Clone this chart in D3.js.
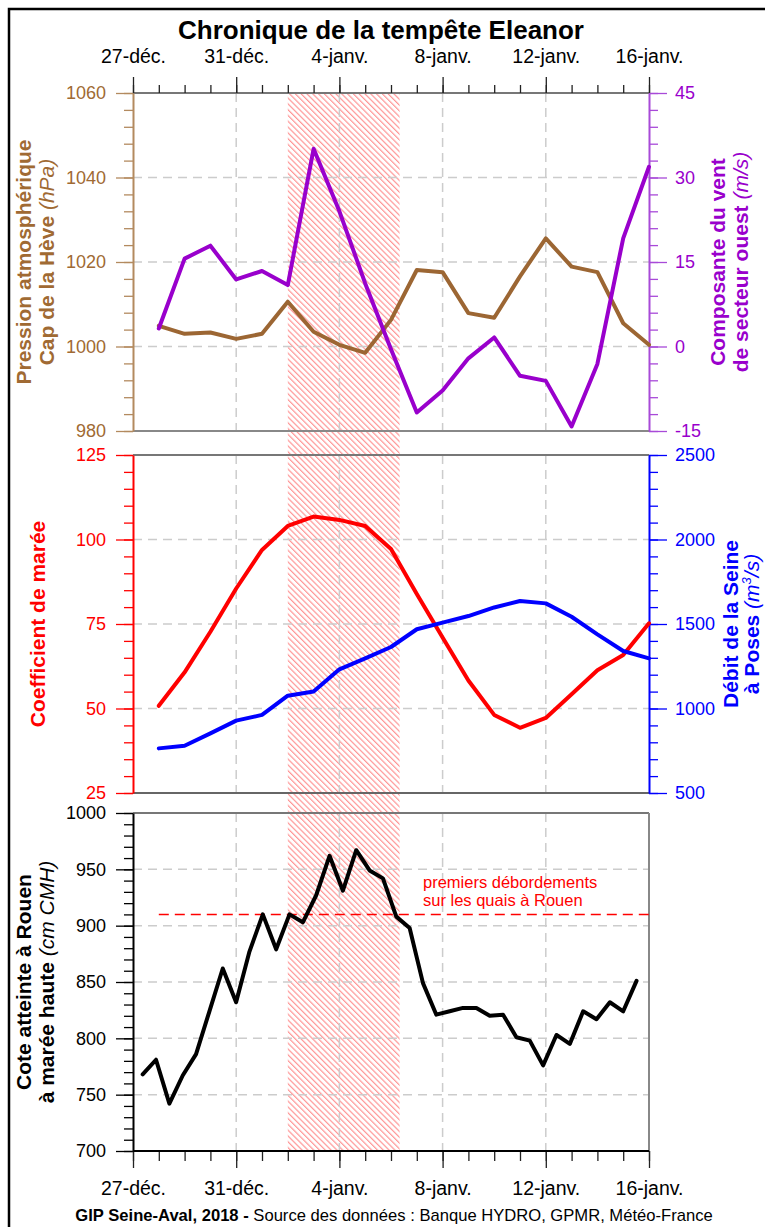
<!DOCTYPE html>
<html><head><meta charset="utf-8">
<script src="https://cdn.jsdelivr.net/npm/d3@7"></script>
<style>
body{margin:0;background:#fff}
svg{display:block}
text{font-family:"Liberation Sans",Arial,Helvetica,sans-serif}
</style>
</head><body>
<svg id="c" width="765" height="1227"></svg>
<script>
// ---------- DATA ----------
const xDomain = ["2017-12-27", "2018-01-16"];
const dateTicks = ["2017-12-27","2017-12-31","2018-01-04","2018-01-08","2018-01-12","2018-01-16"];
const dateTickLabels = ["27-déc.","31-déc.","4-janv.","8-janv.","12-janv.","16-janv."];
const stormPeriod = ["2018-01-02 00:00", "2018-01-06 08:00"];

const dailyDates = ["2017-12-28","2017-12-29","2017-12-30","2017-12-31","2018-01-01","2018-01-02","2018-01-03","2018-01-04","2018-01-05","2018-01-06",
                    "2018-01-07","2018-01-08","2018-01-09","2018-01-10","2018-01-11","2018-01-12","2018-01-13","2018-01-14","2018-01-15","2018-01-16"];
const pressure = [1004.9,1003.0,1003.3,1001.8,1003.0,1010.6,1003.5,1000.4,998.5,1006.3,1018.1,1017.6,1007.9,1006.8,1016.6,1025.6,1018.9,1017.6,1005.5,1000.4];
const windWest = [3.2,15.6,17.9,11.9,13.4,10.9,35.1,24.0,11.2,-0.5,-11.7,-7.8,-2.1,1.6,-5.2,-6.1,-14.2,-3.1,19.2,31.9];
const tideCoef = [50.8,60.7,72.7,85.5,96.9,104.0,106.8,105.8,104.0,97.2,83.9,71.0,58.3,48.1,44.3,47.2,54.2,61.3,65.8,75.2];
const seineFlow = [764,780,853,928,962,1076,1100,1232,1297,1364,1469,1508,1547,1598,1636,1622,1543,1439,1340,1297];

const tideTimes = ["2017-12-27 09:00","2017-12-27 21:25","2017-12-28 09:50","2017-12-28 22:15","2017-12-29 10:40","2017-12-29 23:05",
  "2017-12-30 11:30","2017-12-30 23:55","2017-12-31 12:20","2018-01-01 00:45","2018-01-01 13:10","2018-01-02 01:35",
  "2018-01-02 14:00","2018-01-03 02:25","2018-01-03 14:50","2018-01-04 03:15","2018-01-04 15:40","2018-01-05 04:05",
  "2018-01-05 16:30","2018-01-06 04:55","2018-01-06 17:20","2018-01-07 05:45","2018-01-07 18:10","2018-01-08 06:35",
  "2018-01-08 19:00","2018-01-09 07:25","2018-01-09 19:50","2018-01-10 08:15","2018-01-10 20:40","2018-01-11 09:05",
  "2018-01-11 21:30","2018-01-12 09:55","2018-01-12 22:20","2018-01-13 10:45","2018-01-13 23:10","2018-01-14 11:35",
  "2018-01-15 00:00","2018-01-15 12:25"];
const rouenLevel = [768,781,742,767,786,824,862,832,877,910,879,910,903,927,962,931,967,949,942,908,898,849,821,824,
  827,827,820,821,801,798,776,803,795,824,817,832,824,851];
const floodThreshold = 910;
const floodThresholdSpan = ["2017-12-28", "2018-01-16"];

const pressureTicks = [980,1000,1020,1040,1060];
const windTicks = [-15,0,15,30,45];
const coefTicks = [25,50,75,100,125];
const flowTicks = [500,1000,1500,2000,2500];
const levelTicks = [700,750,800,850,900,950,1000];

// ---------- SETUP ----------
const svg = d3.select("#c");
const pDay = d3.timeParse("%Y-%m-%d");
const pDT = d3.timeParse("%Y-%m-%d %H:%M");
const days = dailyDates.map(pDay);
const tTimes = tideTimes.map(pDT);

const X0 = 133, X1 = 649;
const x = d3.scaleTime().domain(xDomain.map(pDay)).range([X0, X1]);
const panels = {top:[93,431], mid:[455,793], bot:[813,1151]};

const yP = d3.scaleLinear().domain([980,1060]).range([panels.top[1], panels.top[0]]);
const yW = d3.scaleLinear().domain([-15,45]).range([panels.top[1], panels.top[0]]);
const yC = d3.scaleLinear().domain([25,125]).range([panels.mid[1], panels.mid[0]]);
const yQ = d3.scaleLinear().domain([500,2500]).range([panels.mid[1], panels.mid[0]]);
const yH = d3.scaleLinear().domain([700,1000]).range([panels.bot[1], panels.bot[0]]);

const C = {
  brown:"#9c6633", brownAx:"#b38a5f", brownLab:"#a06a33",
  purple:"#9900cc", purpleAx:"#a84ad8",
  red:"#ff0000", blue:"#0000ff", black:"#000"
};

// Frame
svg.append("rect").attr("x",9).attr("y",9).attr("width",800).attr("height",1300)
  .attr("fill","none").attr("stroke","#000").attr("stroke-width",2.5);

// Title
svg.append("text").attr("x",381).attr("y",39).attr("text-anchor","middle")
  .attr("font-size",26).attr("font-weight","bold").text("Chronique de la tempête Eleanor");

// Hatch pattern
const defs = svg.append("defs");
const pat = defs.append("pattern").attr("id","hatch").attr("patternUnits","userSpaceOnUse")
  .attr("width",8).attr("height",4.1).attr("patternTransform","rotate(45)");
pat.append("line").attr("x1",0).attr("y1",1).attr("x2",8).attr("y2",1)
  .attr("stroke","#ff8080").attr("stroke-width",1);
const hs = pDT(stormPeriod[0]), he = pDT(stormPeriod[1]);
svg.append("rect").attr("x",x(hs)).attr("width",x(he)-x(hs))
  .attr("y",panels.top[0]).attr("height",panels.bot[1]-panels.top[0]).attr("fill","url(#hatch)");

// Grids
const tickDates = dateTicks.map(pDay);
function grid(pan, yScale, ticks){
  const g = svg.append("g").attr("stroke","#cccccc").attr("stroke-width",1.5).attr("stroke-dasharray","9,6");
  g.selectAll("line.v").data(tickDates.slice(1,-1)).join("line")
    .attr("x1",d=>x(d)).attr("x2",d=>x(d)).attr("y1",pan[0]).attr("y2",pan[1]);
  g.selectAll("line.h").data(ticks.slice(1,-1)).join("line").attr("class","h")
    .attr("x1",X0).attr("x2",X1).attr("y1",d=>yScale(d)).attr("y2",d=>yScale(d));
}
grid(panels.top, yP, pressureTicks);
grid(panels.mid, yC, coefTicks);
grid(panels.bot, yH, levelTicks);

// Panel borders (gray)
function hline(y, color){ svg.append("line").attr("x1",X0).attr("x2",X1).attr("y1",y).attr("y2",y).attr("stroke",color).attr("stroke-width",2); }
hline(panels.top[0], "#777"); hline(panels.top[1], "#888");
hline(panels.mid[0], "#777"); hline(panels.mid[1], "#666");
hline(panels.bot[0], "#777");
svg.append("line").attr("x1",X1).attr("x2",X1).attr("y1",panels.bot[0]).attr("y2",panels.bot[1]).attr("stroke","#888").attr("stroke-width",2);

// Y axes
function yAxis(scale, majors, step, side, color, labColor){
  const minors = d3.range(majors[0], majors[majors.length-1]+step/2, step);
  const xPos = side==="left" ? X0 : X1;
  const gen = side==="left" ? d3.axisLeft : d3.axisRight;
  const gm = svg.append("g").attr("transform",`translate(${xPos},0)`)
    .call(gen(scale).tickValues(minors).tickSize(9).tickSizeOuter(0).tickFormat(""));
  gm.select(".domain").attr("stroke",color).attr("stroke-width",2);
  gm.selectAll(".tick line").attr("stroke",color).attr("stroke-width",1.3);
  const g = svg.append("g").attr("transform",`translate(${xPos},0)`)
    .call(gen(scale).tickValues(majors).tickSize(side==="left"?17:18).tickSizeOuter(0)
      .tickPadding(side==="left"?10:8).tickFormat(d => String(d)));
  g.select(".domain").remove();
  g.selectAll(".tick line").attr("stroke",color).attr("stroke-width",1.3);
  g.selectAll(".tick text").attr("fill",labColor).attr("font-size",18)
    .attr("font-family",'"Liberation Sans",Arial,sans-serif');
}
yAxis(yP, pressureTicks, 4, "left", C.brownAx, C.brownLab);
yAxis(yW, windTicks, 3, "right", C.purpleAx, C.purple);
yAxis(yC, coefTicks, 5, "left", C.red, C.red);
yAxis(yQ, flowTicks, 100, "right", C.blue, C.blue);
yAxis(yH, levelTicks, 10, "left", "#000", "#000");

// X axes
const allDays = d3.timeDay.range(x.domain()[0], d3.timeDay.offset(x.domain()[1],1));
function xAxis(gen, y, majorSize, minorSize, pad){
  const gm = svg.append("g").attr("transform",`translate(0,${y})`)
    .call(gen(x).tickValues(allDays).tickSize(minorSize).tickSizeOuter(0).tickFormat(""));
  gm.select(".domain").remove();
  gm.selectAll(".tick line").attr("stroke","#222").attr("stroke-width",1.3);
  const g = svg.append("g").attr("transform",`translate(0,${y})`)
    .call(gen(x).tickValues(tickDates).tickSize(majorSize).tickSizeOuter(0).tickPadding(pad)
      .tickFormat((d,i)=>dateTickLabels[i]));
  g.select(".domain").remove();
  g.selectAll(".tick line").attr("stroke","#222").attr("stroke-width",1.3);
  g.selectAll(".tick text").attr("fill","#000").attr("font-size",19.5)
    .attr("font-family",'"Liberation Sans",Arial,sans-serif');
}
xAxis(d3.axisTop, panels.top[0], 16, 8, 14);
xAxis(d3.axisBottom, panels.bot[1], 17, 10, 13);
svg.append("line").attr("x1",X0).attr("x2",X1).attr("y1",panels.bot[1]).attr("y2",panels.bot[1]).attr("stroke","#000").attr("stroke-width",2);

// Series lines
function series(xs, ys, yScale, color){
  const line = d3.line().x((d,i)=>x(xs[i])).y(d=>yScale(d));
  svg.append("path").datum(ys).attr("d",line).attr("fill","none")
    .attr("stroke",color).attr("stroke-width",4).attr("stroke-linejoin","round").attr("stroke-linecap","round");
}
series(days, pressure, yP, C.brown);
series(days, windWest, yW, C.purple);
series(days, tideCoef, yC, C.red);
series(days, seineFlow, yQ, C.blue);

// Flood threshold
svg.append("line").attr("x1",x(pDay(floodThresholdSpan[0]))).attr("x2",x(pDay(floodThresholdSpan[1])))
  .attr("y1",yH(floodThreshold)).attr("y2",yH(floodThreshold))
  .attr("stroke",C.red).attr("stroke-width",1.5).attr("stroke-dasharray","10,6");
series(tTimes, rouenLevel, yH, C.black);

svg.append("text").attr("x",423).attr("y",888).attr("fill",C.red).attr("font-size",16.5).text("premiers débordements");
svg.append("text").attr("x",423).attr("y",906).attr("fill",C.red).attr("font-size",16.5).text("sur les quais à Rouen");

// Axis titles (rotated)
function vtitle(bx, cy, color, parts){
  const t = svg.append("text").attr("transform",`translate(${bx},${cy}) rotate(-90)`)
    .attr("text-anchor","middle").attr("fill",color).attr("font-size",21);
  parts.forEach(p=>{
    const s = t.append("tspan").text(p.t);
    if(p.b) s.attr("font-weight","bold");
    if(p.i) s.attr("font-style","italic");
    if(p.sup) s.attr("font-size",13).attr("dy",-8);
    if(p.after) s.attr("dy",8);
  });
}
vtitle(31, 262, C.brownLab, [{t:"Pression atmosphérique", b:1}]);
vtitle(54, 262, C.brownLab, [{t:"Cap de la Hève ", b:1},{t:"(hPa)", i:1}]);
vtitle(45, 624, C.red, [{t:"Coefficient de marée", b:1}]);
vtitle(31, 982, "#000", [{t:"Cote atteinte à Rouen", b:1}]);
vtitle(54, 982, "#000", [{t:"à marée haute ", b:1},{t:"(cm CMH)", i:1}]);
vtitle(725, 262, C.purple, [{t:"Composante du vent", b:1}]);
vtitle(748, 262, C.purple, [{t:"de secteur ouest ", b:1},{t:"(m/s)", i:1}]);
vtitle(738, 624, C.blue, [{t:"Débit de la Seine", b:1}]);
vtitle(759, 624, C.blue, [{t:"à Poses ", b:1},{t:"(m", i:1},{t:"3", i:1, sup:1},{t:"/s)", i:1, after:1}]);

// Footer
const ft = svg.append("text").attr("x",394).attr("y",1221).attr("text-anchor","middle").attr("font-size",16.6);
ft.append("tspan").attr("font-weight","bold").text("GIP Seine-Aval, 2018 - ");
ft.append("tspan").text("Source des données : Banque HYDRO, GPMR, Météo-France");
</script>
</body></html>
